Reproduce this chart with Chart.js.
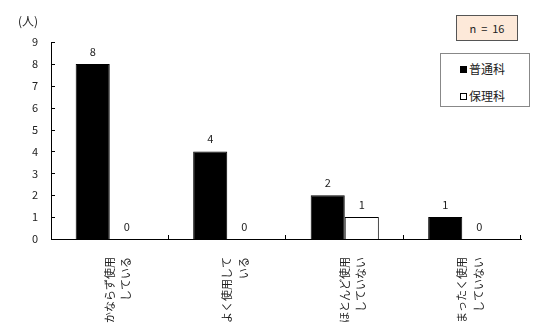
<!DOCTYPE html>
<html>
<head>
<meta charset="utf-8">
<script src="https://cdn.jsdelivr.net/npm/chart.js@4.4.1/dist/chart.umd.min.js"></script>
<style>
body { margin: 0; background: #fff; }
#wrap { position: relative; width: 543px; height: 326px; }
#unit { position: absolute; left: 18px; top: 12px; font: 12px "Noto Sans CJK JP"; color: #222; }
#nbox { position: absolute; left: 456px; top: 15px; width: 62px; height: 26px; box-sizing: border-box;
        background: #fde9d9; border: 1px solid #555; font: 11px "Noto Sans CJK JP"; color: #222;
        text-align: center; line-height: 24px; white-space: pre; }
#legend { position: absolute; left: 440px; top: 53px; width: 90px; height: 54px; box-sizing: border-box;
          background: #fff; border: 1px solid #888; font: 12px "Noto Sans CJK JP"; color: #222; }
#legend div { position: absolute; left: 19px; }
#legend span.sw { display: inline-block; width: 7px; height: 7px; box-sizing: border-box;
                  border: 1px solid #000; margin-right: 2px; vertical-align: 1px; }
</style>
</head>
<body>
<div id="wrap">
  <canvas id="chart" width="543" height="326"></canvas>
  <div id="unit">(人)</div>
  <div id="nbox">n  =  16</div>
  <div id="legend"></div>
</div>
<script>
const categories = [
    ["かならず使用", "している"],
    ["よく使用して", "いる"],
    ["ほとんど使用", "していない"],
    ["まったく使用", "していない"]
];
const seriesNames = ["普通科", "保理科"];
const futsuka = [8, 4, 2, 1];
const hoika = [0, 0, 1, 0];
const seriesColors = ["#000000", "#ffffff"];
const yTicks = [0, 1, 2, 3, 4, 5, 6, 7, 8, 9];

// legend box
const legend = document.getElementById("legend");
seriesNames.forEach((name, i) => {
    const row = document.createElement("div");
    row.style.top = (i === 0 ? 6 : 33) + "px";
    row.innerHTML = '<span class="sw" style="background:' + seriesColors[i] + '"></span>' + name;
    legend.appendChild(row);
});

// value labels above bars
const valueLabels = {
    id: "valueLabels",
    afterDatasetsDraw(chart) {
        const ctx = chart.ctx;
        ctx.save();
        ctx.font = '11px "Noto Sans CJK JP"';
        ctx.fillStyle = "#222";
        ctx.textAlign = "center";
        ctx.textBaseline = "bottom";
        chart.data.datasets.forEach((ds, di) => {
            chart.getDatasetMeta(di).data.forEach((bar, i) => {
                ctx.fillText(ds.data[i], bar.x, bar.y - 7);
            });
        });
        ctx.restore();
    }
};

// short tick marks pointing into the plot
const innerTicks = {
    id: "innerTicks",
    afterDraw(chart) {
        const ctx = chart.ctx;
        const area = chart.chartArea;
        const x = chart.scales.x;
        const y = chart.scales.y;
        ctx.save();
        ctx.strokeStyle = "#000";
        ctx.lineWidth = 1;
        ctx.beginPath();
        yTicks.forEach(v => {
            const py = Math.round(y.getPixelForValue(v)) + 0.5;
            ctx.moveTo(area.left, py);
            ctx.lineTo(area.left + 4, py);
        });
        for (let i = 0; i < categories.length; i++) {
            const px = Math.round(x.getPixelForValue(i) + (x.getPixelForValue(1) - x.getPixelForValue(0)) / 2) - 0.5;
            ctx.moveTo(px, area.bottom);
            ctx.lineTo(px, area.bottom - 4);
        }
        ctx.stroke();
        ctx.restore();
    }
};

new Chart(document.getElementById("chart"), {
    type: "bar",
    data: {
        labels: categories,
        datasets: [
            {
                label: seriesNames[0],
                data: futsuka,
                backgroundColor: seriesColors[0],
                borderColor: "#000",
                borderWidth: 1
            },
            {
                label: seriesNames[1],
                data: hoika,
                backgroundColor: seriesColors[1],
                borderColor: "#000",
                borderWidth: 1
            }
        ]
    },
    options: {
        responsive: false,
        animation: false,
        devicePixelRatio: 1,
        categoryPercentage: 0.58,
        barPercentage: 1.0,
        layout: { padding: { top: 42, right: 22, left: 0, bottom: 0 } },
        plugins: {
            legend: { display: false },
            tooltip: { enabled: false }
        },
        scales: {
            x: {
                grid: { display: false },
                border: { color: "#000", width: 1 },
                ticks: {
                    color: "#222",
                    font: { family: "Noto Sans CJK JP", size: 11, lineHeight: 1.5 },
                    minRotation: 90,
                    maxRotation: 90,
                    padding: 10,
                    autoSkip: false
                },
                afterFit(scale) { scale.height = 87; }
            },
            y: {
                min: 0,
                max: 9,
                grid: { display: false },
                border: { color: "#000", width: 1 },
                ticks: {
                    stepSize: 1,
                    color: "#222",
                    font: { family: "Noto Sans CJK JP", size: 11 },
                    padding: 5
                },
                afterFit(scale) { scale.width = 51; }
            }
        }
    },
    plugins: [valueLabels, innerTicks]
});
</script>
</body>
</html>
